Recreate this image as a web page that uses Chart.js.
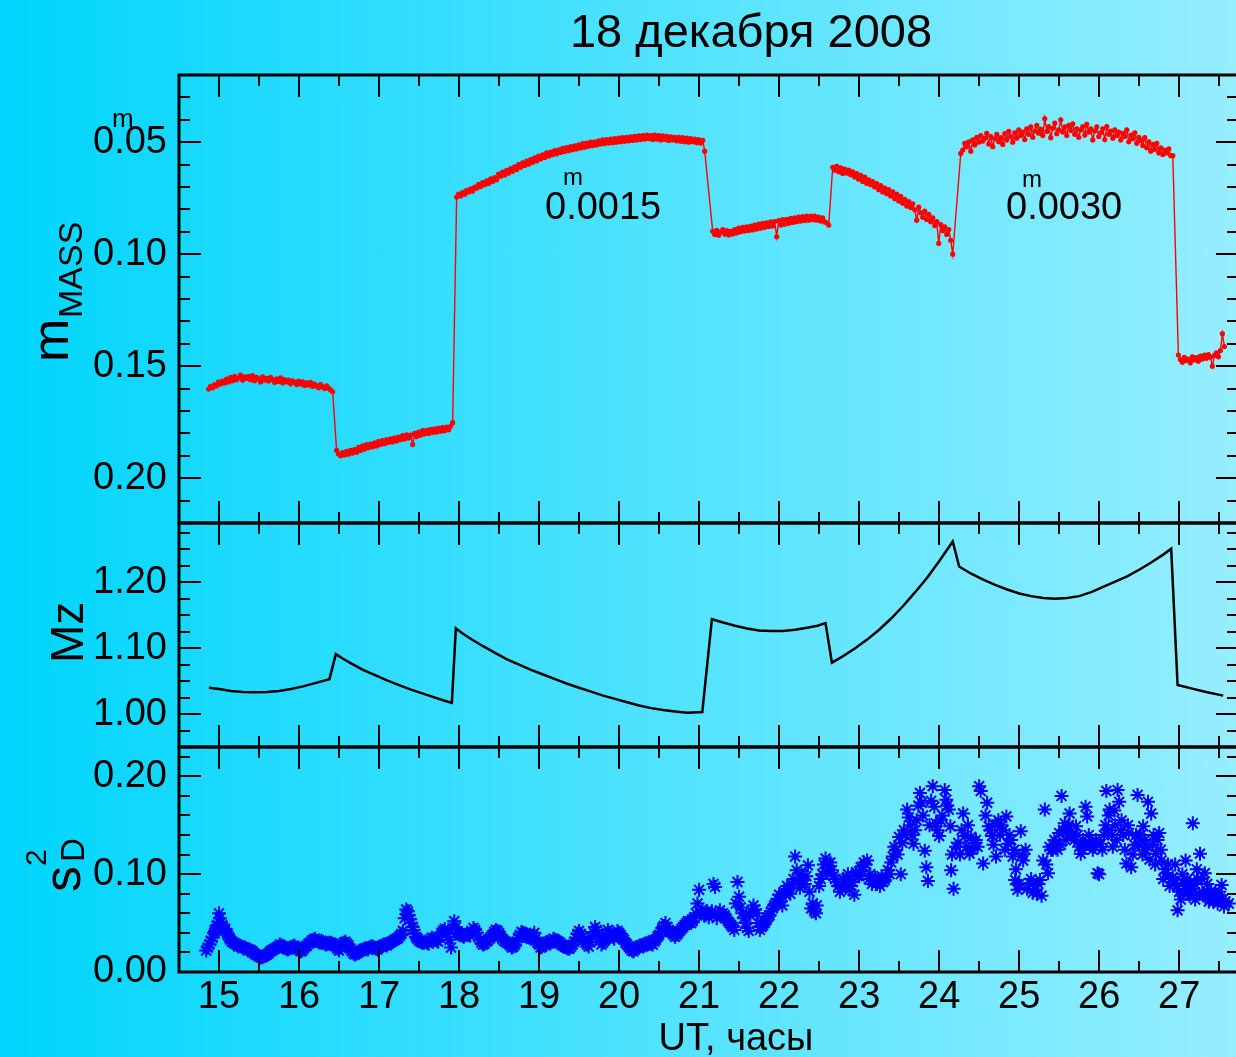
<!DOCTYPE html>
<html>
<head>
<meta charset="utf-8">
<script src="https://cdn.jsdelivr.net/npm/chart.js@4.4.1/dist/chart.umd.min.js"></script>
<style>
  html, body { margin: 0; padding: 0; overflow: hidden; }
  #wrap {
    position: relative; width: 1236px; height: 1057px; overflow: hidden;
    background: linear-gradient(to right, #00d5fd, #96eeff);
    font-family: 'Liberation Sans', Arial, sans-serif; color: #000;
  }
  #wrap canvas { position: absolute; left: 0; top: 0; }
  .lbl { position: absolute; line-height: 1; white-space: nowrap; }
  .rot { position: absolute; line-height: 1; white-space: nowrap; transform-origin: 0 0; transform: rotate(-90deg); }
</style>
</head>
<body>
<div id="wrap">
  <canvas id="c1" width="1240" height="1057"></canvas>
  <canvas id="c2" width="1240" height="1057"></canvas>
  <canvas id="c3" width="1240" height="1057"></canvas>

  <div class="lbl" style="left:751px; top:7px; font-size:47px; transform:translateX(-50%);">18 декабря 2008</div>
  <div class="lbl" style="left:736px; top:1018px; font-size:38px; transform:translateX(-50%);">UT, часы</div>

  <div class="lbl" style="left:112px; top:105px; font-size:26px;">m</div>
  <div class="lbl" style="left:545px; top:187px; font-size:38px;">0.0015</div>
  <div class="lbl" style="left:563px; top:165px; font-size:24px;">m</div>
  <div class="lbl" style="left:1006px; top:187px; font-size:38px;">0.0030</div>
  <div class="lbl" style="left:1022px; top:167px; font-size:24px;">m</div>

  <div class="rot" style="left:24px; top:362px; font-size:52px;">m</div>
  <div class="rot" style="left:53px; top:318px; font-size:34px;">MASS</div>
  <div class="rot" style="left:44px; top:663px; font-size:46px;">Mz</div>
  <div class="rot" style="left:36px; top:892px; font-size:52px;">s</div>
  <div class="rot" style="left:56px; top:862px; font-size:33px;">D</div>
  <div class="rot" style="left:21px; top:866px; font-size:30px;">2</div>
</div>

<script>
// --- x axis (UT, hours) ---
const xMajor = [15, 16, 17, 18, 19, 20, 21, 22, 23, 24, 25, 26, 27];
const xMinor = [14.5, 15.5, 16.5, 17.5, 18.5, 19.5, 20.5, 21.5, 22.5, 23.5, 24.5, 25.5, 26.5, 27.5];

// --- top panel: m_MASS ---
const mMajor = [0.05, 0.10, 0.15, 0.20];
const mMinor = [0.02, 0.03, 0.04, 0.06, 0.07, 0.08, 0.09, 0.11, 0.12, 0.13, 0.14, 0.16, 0.17, 0.18, 0.19, 0.21, 0.22];

const redTime = [
  // 14.9 - 16.4
  14.87, 14.895, 14.92, 14.945, 14.97, 14.995, 15.02, 15.045, 15.07, 15.095,
  15.12, 15.145, 15.17, 15.195, 15.22, 15.245, 15.27, 15.295, 15.32, 15.345,
  15.37, 15.395, 15.42, 15.445, 15.47, 15.495, 15.52, 15.545, 15.57, 15.595,
  15.62, 15.645, 15.67, 15.695, 15.72, 15.745, 15.77, 15.795, 15.82, 15.845,
  15.87, 15.895, 15.92, 15.945, 15.97, 15.995, 16.02, 16.045, 16.07, 16.095,
  16.12, 16.145, 16.17, 16.195, 16.22, 16.245, 16.27, 16.295, 16.32, 16.345,
  16.37, 16.395, 16.42,
  // 16.5 - 17.9
  16.47, 16.495, 16.52, 16.545, 16.57, 16.595, 16.62, 16.645, 16.67, 16.695,
  16.72, 16.745, 16.77, 16.795, 16.82, 16.845, 16.87, 16.895, 16.92, 16.945,
  16.97, 16.995, 17.02, 17.045, 17.07, 17.095, 17.12, 17.145, 17.17, 17.195,
  17.22, 17.245, 17.27, 17.295, 17.32, 17.345, 17.37, 17.395, 17.42, 17.445,
  17.47, 17.495, 17.52, 17.545, 17.57, 17.595, 17.62, 17.645, 17.67, 17.695,
  17.72, 17.745, 17.77, 17.795, 17.82, 17.845, 17.87, 17.895, 17.92,
  // 18.0 - 21.1
  17.97, 17.995, 18.02, 18.045, 18.07, 18.095, 18.12, 18.145, 18.17, 18.195,
  18.22, 18.245, 18.27, 18.295, 18.32, 18.345, 18.37, 18.395, 18.42, 18.445,
  18.47, 18.495, 18.52, 18.545, 18.57, 18.595, 18.62, 18.645, 18.67, 18.695,
  18.72, 18.745, 18.77, 18.795, 18.82, 18.845, 18.87, 18.895, 18.92, 18.945,
  18.97, 18.995, 19.02, 19.045, 19.07, 19.095, 19.12, 19.145, 19.17, 19.195,
  19.22, 19.245, 19.27, 19.295, 19.32, 19.345, 19.37, 19.395, 19.42, 19.445,
  19.47, 19.495, 19.52, 19.545, 19.57, 19.595, 19.62, 19.645, 19.67, 19.695,
  19.72, 19.745, 19.77, 19.795, 19.82, 19.845, 19.87, 19.895, 19.92, 19.945,
  19.97, 19.995, 20.02, 20.045, 20.07, 20.095, 20.12, 20.145, 20.17, 20.195,
  20.22, 20.245, 20.27, 20.295, 20.32, 20.345, 20.37, 20.395, 20.42, 20.445,
  20.47, 20.495, 20.52, 20.545, 20.57, 20.595, 20.62, 20.645, 20.67, 20.695,
  20.72, 20.745, 20.77, 20.795, 20.82, 20.845, 20.87, 20.895, 20.92, 20.945,
  20.97, 20.995, 21.02, 21.045, 21.07,
  // 21.2 - 22.6
  21.17, 21.195, 21.22, 21.245, 21.27, 21.295, 21.32, 21.345, 21.37, 21.395,
  21.42, 21.445, 21.47, 21.495, 21.52, 21.545, 21.57, 21.595, 21.62, 21.645,
  21.67, 21.695, 21.72, 21.745, 21.77, 21.795, 21.82, 21.845, 21.87, 21.895,
  21.92, 21.945, 21.97, 21.995, 22.02, 22.045, 22.07, 22.095, 22.12, 22.145,
  22.17, 22.195, 22.22, 22.245, 22.27, 22.295, 22.32, 22.345, 22.37, 22.395,
  22.42, 22.445, 22.47, 22.495, 22.52, 22.545, 22.57, 22.595, 22.62,
  // 22.7 - 24.2
  22.67, 22.695, 22.72, 22.745, 22.77, 22.795, 22.82, 22.845, 22.87, 22.895,
  22.92, 22.945, 22.97, 22.995, 23.02, 23.045, 23.07, 23.095, 23.12, 23.145,
  23.17, 23.195, 23.22, 23.245, 23.27, 23.295, 23.32, 23.345, 23.37, 23.395,
  23.42, 23.445, 23.47, 23.495, 23.52, 23.545, 23.57, 23.595, 23.62, 23.645,
  23.67, 23.695, 23.72, 23.745, 23.77, 23.795, 23.82, 23.845, 23.87, 23.895,
  23.92, 23.945, 23.97, 23.995, 24.02, 24.045, 24.07, 24.095, 24.12, 24.145,
  24.17,
  // 24.3 - 26.9
  24.27, 24.295, 24.32, 24.345, 24.37, 24.395, 24.42, 24.445, 24.47, 24.495,
  24.52, 24.545, 24.57, 24.595, 24.62, 24.645, 24.67, 24.695, 24.72, 24.745,
  24.77, 24.795, 24.82, 24.845, 24.87, 24.895, 24.92, 24.945, 24.97, 24.995,
  25.02, 25.045, 25.07, 25.095, 25.12, 25.145, 25.17, 25.195, 25.22, 25.245,
  25.27, 25.295, 25.32, 25.345, 25.37, 25.395, 25.42, 25.445, 25.47, 25.495,
  25.52, 25.545, 25.57, 25.595, 25.62, 25.645, 25.67, 25.695, 25.72, 25.745,
  25.77, 25.795, 25.82, 25.845, 25.87, 25.895, 25.92, 25.945, 25.97, 25.995,
  26.02, 26.045, 26.07, 26.095, 26.12, 26.145, 26.17, 26.195, 26.22, 26.245,
  26.27, 26.295, 26.32, 26.345, 26.37, 26.395, 26.42, 26.445, 26.47, 26.495,
  26.52, 26.545, 26.57, 26.595, 26.62, 26.645, 26.67, 26.695, 26.72, 26.745,
  26.77, 26.795, 26.82, 26.845, 26.87, 26.895, 26.92,
  // 27.0 - 27.6
  26.99, 27.015, 27.04, 27.065, 27.09, 27.115, 27.14, 27.165, 27.19, 27.215,
  27.24, 27.265, 27.29, 27.315, 27.34, 27.365, 27.39, 27.415, 27.44, 27.465,
  27.49, 27.515, 27.54, 27.565
];
const redMag = [
  0.1602, 0.1590, 0.1596, 0.1582, 0.1588, 0.1570, 0.1580, 0.1566, 0.1575, 0.1558,
  0.1570, 0.1550, 0.1565, 0.1545, 0.1560, 0.1552, 0.1540, 0.1562, 0.1548, 0.1555,
  0.1545, 0.1560, 0.1542, 0.1565, 0.1550, 0.1556, 0.1570, 0.1548, 0.1562, 0.1554,
  0.1566, 0.1550, 0.1560, 0.1572, 0.1556, 0.1568, 0.1552, 0.1574, 0.1560, 0.1570,
  0.1562, 0.1578, 0.1565, 0.1572, 0.1582, 0.1566, 0.1580, 0.1570, 0.1586, 0.1574,
  0.1584, 0.1572, 0.1590, 0.1580, 0.1588, 0.1596, 0.1582, 0.1592, 0.1600, 0.1588,
  0.1598, 0.1606, 0.1614,

  0.1876, 0.1892, 0.1900, 0.1886, 0.1896, 0.1880, 0.1893, 0.1876, 0.1888, 0.1872,
  0.1884, 0.1862, 0.1876, 0.1856, 0.1870, 0.1850, 0.1864, 0.1848, 0.1860, 0.1842,
  0.1856, 0.1836, 0.1850, 0.1832, 0.1846, 0.1828, 0.1840, 0.1824, 0.1838, 0.1820,
  0.1834, 0.1816, 0.1828, 0.1810, 0.1825, 0.1806, 0.1820, 0.1808, 0.1850, 0.1800,
  0.1814, 0.1794, 0.1808, 0.1788, 0.1802, 0.1786, 0.1800, 0.1782, 0.1796, 0.1780,
  0.1794, 0.1776, 0.1790, 0.1774, 0.1788, 0.1772, 0.1784, 0.1768, 0.1752,

  0.0745, 0.0732, 0.0740, 0.0724, 0.0732, 0.0715, 0.0722, 0.0708, 0.0718, 0.0700,
  0.0706, 0.0688, 0.0698, 0.0680, 0.0690, 0.0672, 0.0684, 0.0664, 0.0676, 0.0658,
  0.0668, 0.0642, 0.0652, 0.0634, 0.0646, 0.0626, 0.0638, 0.0618, 0.0630, 0.0610,
  0.0622, 0.0600, 0.0612, 0.0592, 0.0604, 0.0584, 0.0598, 0.0578, 0.0590, 0.0570,
  0.0584, 0.0562, 0.0575, 0.0556, 0.0568, 0.0548, 0.0562, 0.0544, 0.0556, 0.0538,
  0.0552, 0.0534, 0.0546, 0.0528, 0.0542, 0.0524, 0.0538, 0.0520, 0.0534, 0.0516,
  0.0530, 0.0512, 0.0526, 0.0506, 0.0522, 0.0504, 0.0518, 0.0500, 0.0515, 0.0498,
  0.0512, 0.0494, 0.0508, 0.0490, 0.0506, 0.0488, 0.0504, 0.0486, 0.0502, 0.0484,
  0.0500, 0.0482, 0.0498, 0.0480, 0.0496, 0.0478, 0.0494, 0.0476, 0.0492, 0.0474,
  0.0490, 0.0472, 0.0488, 0.0470, 0.0486, 0.0468, 0.0484, 0.0470, 0.0488, 0.0468,
  0.0486, 0.0470, 0.0490, 0.0472, 0.0488, 0.0474, 0.0492, 0.0476, 0.0490, 0.0478,
  0.0494, 0.0478, 0.0496, 0.0480, 0.0498, 0.0482, 0.0500, 0.0484, 0.0498, 0.0486,
  0.0502, 0.0488, 0.0504, 0.0492, 0.0540,

  0.0898, 0.0912, 0.0894, 0.0915, 0.0900, 0.0890, 0.0910, 0.0895, 0.0914, 0.0898,
  0.0910, 0.0890, 0.0905, 0.0884, 0.0900, 0.0880, 0.0896, 0.0878, 0.0894, 0.0874,
  0.0892, 0.0870, 0.0888, 0.0866, 0.0884, 0.0862, 0.0880, 0.0860, 0.0876, 0.0856,
  0.0874, 0.0854, 0.0922, 0.0850, 0.0870, 0.0846, 0.0866, 0.0844, 0.0862, 0.0840,
  0.0858, 0.0838, 0.0855, 0.0834, 0.0852, 0.0832, 0.0850, 0.0830, 0.0848, 0.0830,
  0.0846, 0.0830, 0.0848, 0.0834, 0.0852, 0.0838, 0.0856, 0.0860, 0.0870,

  0.0612, 0.0625, 0.0608, 0.0632, 0.0615, 0.0640, 0.0620, 0.0638, 0.0625, 0.0645,
  0.0632, 0.0655, 0.0640, 0.0665, 0.0648, 0.0675, 0.0656, 0.0684, 0.0668, 0.0690,
  0.0676, 0.0700, 0.0685, 0.0712, 0.0694, 0.0722, 0.0705, 0.0730, 0.0712, 0.0740,
  0.0722, 0.0752, 0.0732, 0.0762, 0.0742, 0.0772, 0.0755, 0.0785, 0.0765, 0.0792,
  0.0775, 0.0802, 0.0848, 0.0790, 0.0815, 0.0835, 0.0808, 0.0845, 0.0822, 0.0855,
  0.0838, 0.0872, 0.0855, 0.0952, 0.0868, 0.0895, 0.0878, 0.0912, 0.0890, 0.0938,
  0.1000,

  0.0550, 0.0535, 0.0505, 0.0520, 0.0498, 0.0540, 0.0490, 0.0512, 0.0478, 0.0500,
  0.0470, 0.0495, 0.0482, 0.0460, 0.0508, 0.0475, 0.0520, 0.0485, 0.0465, 0.0498,
  0.0480, 0.0510, 0.0462, 0.0490, 0.0452, 0.0475, 0.0500, 0.0458, 0.0482, 0.0445,
  0.0470, 0.0455, 0.0488, 0.0440, 0.0465, 0.0432, 0.0478, 0.0450, 0.0425, 0.0460,
  0.0442, 0.0470, 0.0395, 0.0452, 0.0430, 0.0480, 0.0438, 0.0415, 0.0462, 0.0445,
  0.0400, 0.0455, 0.0432, 0.0470, 0.0425, 0.0448, 0.0418, 0.0465, 0.0440, 0.0478,
  0.0445, 0.0430, 0.0468, 0.0420, 0.0455, 0.0440, 0.0490, 0.0450, 0.0432, 0.0475,
  0.0458, 0.0440, 0.0488, 0.0430, 0.0465, 0.0450, 0.0482, 0.0445, 0.0470, 0.0455,
  0.0490, 0.0460, 0.0475, 0.0445, 0.0498, 0.0468, 0.0485, 0.0458, 0.0505, 0.0478,
  0.0492, 0.0515, 0.0480, 0.0525, 0.0498, 0.0540, 0.0510, 0.0532, 0.0505, 0.0548,
  0.0525, 0.0555, 0.0535, 0.0548, 0.0530, 0.0560, 0.0560,

  0.1450, 0.1470, 0.1482, 0.1460, 0.1475, 0.1468, 0.1485, 0.1458, 0.1472, 0.1462,
  0.1478, 0.1455, 0.1468, 0.1450, 0.1465, 0.1448, 0.1460, 0.1500, 0.1452, 0.1440,
  0.1458, 0.1430, 0.1355, 0.1412
];

// --- middle panel: Mz (air mass) ---
const mzMajor = [1.00, 1.10, 1.20];
const mzMinor = [0.95, 0.975, 1.025, 1.05, 1.075, 1.125, 1.15, 1.175, 1.225, 1.25, 1.275];

const mzTime = [
  14.875, 15.0, 15.15, 15.3, 15.45, 15.6, 15.75, 15.9, 16.05, 16.2, 16.38,
  16.46, 16.55, 16.65, 16.8, 16.95, 17.1, 17.25, 17.4, 17.55, 17.7, 17.8, 17.91,
  17.96, 18.05, 18.15, 18.3, 18.45, 18.6, 18.75, 18.9, 19.05, 19.2, 19.35, 19.5,
  19.65, 19.8, 19.95, 20.1, 20.25, 20.4, 20.55, 20.7, 20.85, 21.04,
  21.16, 21.3, 21.45, 21.6, 21.75, 21.9, 22.05, 22.2, 22.35, 22.48, 22.58,
  22.66, 22.8, 22.95, 23.1, 23.25, 23.4, 23.55, 23.7, 23.85, 24.0, 24.17,
  24.25, 24.4, 24.55, 24.7, 24.85, 25.0, 25.15, 25.3, 25.45, 25.6, 25.75,
  25.9, 26.05, 26.2, 26.35, 26.5, 26.65, 26.8, 26.9,
  26.98, 27.15, 27.35, 27.55
];
const mzValue = [
  1.040, 1.038, 1.035, 1.0335, 1.033, 1.0335, 1.035, 1.038, 1.042, 1.047, 1.053,
  1.091, 1.084, 1.077, 1.067, 1.059, 1.051, 1.044, 1.037, 1.031, 1.025, 1.021, 1.017,
  1.130, 1.122, 1.114, 1.103, 1.093, 1.083, 1.075, 1.067, 1.060, 1.053, 1.046, 1.040,
  1.034, 1.028, 1.023, 1.018, 1.013, 1.009, 1.006, 1.004, 1.002, 1.003,
  1.144, 1.139, 1.134, 1.130, 1.127, 1.126, 1.126, 1.128, 1.131, 1.134, 1.138,
  1.078, 1.088, 1.100, 1.113, 1.128, 1.145, 1.164, 1.185, 1.207, 1.232, 1.262,
  1.224, 1.213, 1.204, 1.196, 1.189, 1.183, 1.179, 1.176, 1.175, 1.176, 1.179,
  1.185, 1.193, 1.201, 1.209, 1.219, 1.230, 1.242, 1.251,
  1.044, 1.039, 1.033, 1.028
];

// --- bottom panel: s_D^2 ---
const sdMajor = [0.00, 0.10, 0.20];
const sdMinor = [0.02, 0.04, 0.06, 0.08, 0.12, 0.14, 0.16, 0.18, 0.22];

const sdTime = [
  14.84, 14.88, 14.92, 14.95, 14.98, 15.00, 15.02, 15.05, 15.08, 15.11,
  15.14, 15.18, 15.22, 15.26, 15.30, 15.34, 15.38, 15.42, 15.46, 15.50,
  15.54, 15.58, 15.62, 15.66, 15.70, 15.74, 15.78, 15.82, 15.86, 15.90,
  15.94, 15.98, 16.02, 16.06, 16.10, 16.14, 16.18, 16.22, 16.26, 16.30,
  16.34, 16.38, 16.42, 16.46, 16.50, 16.54, 16.58, 16.62, 16.66, 16.70,
  16.74, 16.78, 16.82, 16.86, 16.90, 16.94, 16.98, 17.02, 17.06, 17.10,
  17.14, 17.18, 17.22, 17.26, 17.30, 17.34, 17.37, 17.40, 17.43, 17.46,
  17.50, 17.54, 17.58, 17.62, 17.66, 17.70, 17.74, 17.78, 17.82, 17.86,
  17.90, 17.94, 17.98, 18.02, 18.06, 18.10, 18.14, 18.18, 18.22, 18.26,
  18.30, 18.34, 18.38, 18.42, 18.46, 18.50, 18.54, 18.58, 18.62, 18.66,
  18.70, 18.74, 18.78, 18.82, 18.86, 18.90, 18.94, 18.98, 19.02, 19.06,
  19.10, 19.14, 19.18, 19.22, 19.26, 19.30, 19.34, 19.38, 19.42, 19.46,
  19.50, 19.54, 19.58, 19.62, 19.66, 19.70, 19.74, 19.78, 19.82, 19.86,
  19.90, 19.94, 19.98, 20.02, 20.06, 20.10, 20.14, 20.18, 20.22, 20.26,
  20.30, 20.34, 20.38, 20.42, 20.46, 20.50, 20.54, 20.58, 20.62, 20.66,
  20.70, 20.74, 20.78, 20.82, 20.86, 20.90, 20.94, 20.98, 21.00, 21.02,
  21.06, 21.10, 21.14, 21.18, 21.20, 21.24, 21.28, 21.32, 21.36, 21.40,
  21.44, 21.48, 21.50, 21.52, 21.56, 21.60, 21.64, 21.68, 21.72, 21.76,
  21.80, 21.84, 21.88, 21.92, 21.96, 22.00, 22.04, 22.08, 22.12, 22.16,
  22.20, 22.22, 22.26, 22.30, 22.34, 22.36, 22.40, 22.44, 22.47, 22.50,
  22.54, 22.58, 22.62, 22.66, 22.70, 22.74, 22.78, 22.82, 22.86, 22.90,
  22.94, 22.98, 23.02, 23.06, 23.10, 23.14, 23.18, 23.22, 23.26, 23.30,
  23.34, 23.38, 23.42, 23.44, 23.48, 23.50, 23.52, 23.56, 23.60, 23.64,
  23.68, 23.72, 23.76, 23.78, 23.82, 23.84, 23.86, 23.88, 23.92, 23.94,
  23.96, 24.00, 24.02, 24.07, 24.09, 24.12, 24.14, 24.15, 24.18, 24.21,
  24.26, 24.30, 24.32, 24.38, 24.42, 24.46, 24.50, 24.52, 24.55, 24.60,
  24.62, 24.66, 24.71, 24.74, 24.80, 24.84, 24.86, 24.90, 24.92, 24.95,
  24.98, 25.02, 25.05, 25.08, 25.13, 25.17, 25.20, 25.26, 25.28, 25.30,
  25.32, 25.36, 25.38, 25.42, 25.46, 25.50, 25.53, 25.57, 25.60, 25.63,
  25.67, 25.71, 25.75, 25.77, 25.80, 25.83, 25.85, 25.88, 25.92, 25.96,
  25.98, 26.02, 26.06, 26.09, 26.11, 26.13, 26.17, 26.20, 26.23, 26.25,
  26.28, 26.30, 26.34, 26.37, 26.40, 26.44, 26.48, 26.52, 26.55, 26.58,
  26.61, 26.65, 26.68, 26.71, 26.75, 26.78, 26.82, 26.84, 26.88, 26.92,
  26.95, 26.98, 27.02, 27.05, 27.08, 27.11, 27.14, 27.17, 27.20, 27.23,
  27.26, 27.29, 27.32, 27.35, 27.38, 27.42, 27.45, 27.48, 27.51, 27.53,
  27.56,
  // second pass of readings
  14.86, 14.90, 14.94, 14.97, 15.01, 15.04, 15.07, 15.10, 15.13, 15.16,
  15.20, 15.24, 15.28, 15.32, 15.36, 15.40, 15.44, 15.48, 15.52, 15.56,
  15.60, 15.64, 15.68, 15.72, 15.76, 15.80, 15.84, 15.88, 15.92, 15.96,
  16.00, 16.04, 16.08, 16.12, 16.16, 16.20, 16.24, 16.28, 16.32, 16.36,
  16.40, 16.44, 16.48, 16.52, 16.56, 16.60, 16.64, 16.68, 16.72, 16.76,
  16.80, 16.84, 16.88, 16.92, 16.96, 17.00, 17.04, 17.08, 17.12, 17.16,
  17.20, 17.24, 17.28, 17.32, 17.36, 17.39, 17.42, 17.45, 17.48, 17.52,
  17.56, 17.60, 17.64, 17.68, 17.72, 17.76, 17.80, 17.84, 17.88, 17.92,
  17.96, 18.00, 18.04, 18.08, 18.12, 18.16, 18.20, 18.24, 18.28, 18.32,
  18.36, 18.40, 18.44, 18.48, 18.52, 18.56, 18.60, 18.64, 18.68, 18.72,
  18.76, 18.80, 18.84, 18.88, 18.92, 18.96, 19.00, 19.04, 19.08, 19.12,
  19.16, 19.20, 19.24, 19.28, 19.32, 19.36, 19.40, 19.44, 19.48, 19.52,
  19.56, 19.60, 19.64, 19.68, 19.72, 19.76, 19.80, 19.84, 19.88, 19.92,
  19.96, 20.00, 20.04, 20.08, 20.12, 20.16, 20.20, 20.24, 20.28, 20.32,
  20.36, 20.40, 20.44, 20.48, 20.52, 20.56, 20.60, 20.64, 20.68, 20.72,
  20.76, 20.80, 20.84, 20.88, 20.92, 20.96,
  21.04, 21.08, 21.12, 21.16, 21.22, 21.26, 21.30, 21.34, 21.38, 21.42,
  21.46, 21.54, 21.58, 21.62, 21.66, 21.70, 21.74, 21.78, 21.82, 21.86,
  21.90, 21.94, 21.98, 22.02, 22.06, 22.10, 22.14, 22.18, 22.24, 22.28,
  22.32, 22.38, 22.42, 22.46, 22.52, 22.56, 22.60, 22.64, 22.68, 22.72,
  22.76, 22.80, 22.84, 22.88, 22.92, 22.96, 23.00, 23.04, 23.08, 23.12,
  23.16, 23.20, 23.24, 23.28, 23.32, 23.36, 23.40, 23.46, 23.54, 23.58,
  23.62, 23.66, 23.70, 23.74, 23.80, 23.90, 23.98, 24.04, 24.10, 24.16,
  24.24, 24.28, 24.34, 24.36, 24.40, 24.44, 24.48, 24.58, 24.64, 24.68,
  24.70, 24.76, 24.78, 24.82, 24.88, 24.94, 24.96, 25.00, 25.04, 25.10,
  25.15, 25.22, 25.24, 25.34, 25.40, 25.44, 25.48, 25.52, 25.55, 25.58,
  25.62, 25.65, 25.69, 25.73, 25.79, 25.82, 25.87, 25.90, 25.94, 26.00,
  26.04, 26.08, 26.12, 26.16, 26.19, 26.22, 26.27, 26.32, 26.36, 26.42,
  26.46, 26.50, 26.54, 26.57, 26.60, 26.63, 26.67, 26.70, 26.73, 26.77,
  26.80, 26.86, 26.90, 26.94, 26.97, 27.00, 27.04, 27.07, 27.10, 27.13,
  27.16, 27.19, 27.22, 27.25, 27.28, 27.31, 27.34, 27.37, 27.40, 27.43,
  27.46, 27.50, 27.54, 27.58, 27.62
];
const sdValue = [
  0.022, 0.028, 0.035, 0.042, 0.048, 0.060, 0.050, 0.046, 0.044, 0.038,
  0.033, 0.030, 0.028, 0.027, 0.025, 0.024, 0.023, 0.021, 0.018, 0.016,
  0.015, 0.017, 0.019, 0.022, 0.024, 0.026, 0.027, 0.025, 0.023, 0.025,
  0.027, 0.024, 0.021, 0.024, 0.027, 0.030, 0.033, 0.032, 0.030, 0.031,
  0.028, 0.030, 0.029, 0.026, 0.022, 0.028, 0.031, 0.027, 0.021, 0.018,
  0.020, 0.022, 0.024, 0.023, 0.026, 0.025, 0.023, 0.026, 0.028, 0.027,
  0.030, 0.032, 0.034, 0.037, 0.042, 0.064, 0.058, 0.050, 0.043, 0.036,
  0.032, 0.030, 0.031, 0.029, 0.035, 0.033, 0.031, 0.040, 0.044, 0.036,
  0.025, 0.052, 0.040, 0.038, 0.036, 0.040, 0.037, 0.045, 0.040, 0.033,
  0.028, 0.031, 0.034, 0.038, 0.043, 0.040, 0.034, 0.031, 0.029, 0.025,
  0.028, 0.035, 0.041, 0.039, 0.036, 0.034, 0.040, 0.030, 0.025, 0.028,
  0.031, 0.029, 0.034, 0.032, 0.030, 0.027, 0.025, 0.024, 0.028, 0.035,
  0.042, 0.036, 0.030, 0.026, 0.036, 0.046, 0.040, 0.028, 0.032, 0.043,
  0.038, 0.034, 0.042, 0.038, 0.033, 0.028, 0.024, 0.021, 0.025, 0.027,
  0.026, 0.029, 0.031, 0.028, 0.033, 0.038, 0.045, 0.050, 0.043, 0.040,
  0.036, 0.040, 0.044, 0.048, 0.052, 0.050, 0.055, 0.070, 0.084, 0.060,
  0.058, 0.062, 0.060, 0.090, 0.087, 0.060, 0.057, 0.058, 0.052, 0.048,
  0.043, 0.092, 0.077, 0.066, 0.055, 0.045, 0.058, 0.068, 0.060, 0.043,
  0.048, 0.053, 0.058, 0.065, 0.070, 0.079, 0.068, 0.079, 0.085, 0.090,
  0.118, 0.104, 0.086, 0.094, 0.098, 0.109, 0.065, 0.062, 0.068, 0.088,
  0.100, 0.116, 0.108, 0.104, 0.095, 0.088, 0.086, 0.092, 0.100, 0.088,
  0.079, 0.098, 0.107, 0.112, 0.114, 0.100, 0.093, 0.090, 0.088, 0.092,
  0.097, 0.100, 0.118, 0.128, 0.120, 0.138, 0.100, 0.145, 0.166, 0.150,
  0.131, 0.155, 0.183, 0.173, 0.124, 0.107, 0.093, 0.150, 0.190, 0.169,
  0.152, 0.139, 0.155, 0.186, 0.176, 0.166, 0.149, 0.104, 0.085, 0.128,
  0.120, 0.162, 0.139, 0.121, 0.125, 0.135, 0.190, 0.185, 0.111, 0.173,
  0.149, 0.139, 0.118, 0.155, 0.145, 0.159, 0.131, 0.135, 0.118, 0.094,
  0.084, 0.144, 0.114, 0.125, 0.091, 0.081, 0.088, 0.094, 0.078, 0.114,
  0.166, 0.101, 0.128, 0.125, 0.130, 0.142, 0.180, 0.152, 0.145, 0.162,
  0.139, 0.149, 0.128, 0.121, 0.135, 0.169, 0.159, 0.131, 0.125, 0.135,
  0.101, 0.131, 0.140, 0.185, 0.145, 0.166, 0.128, 0.150, 0.186, 0.174,
  0.155, 0.140, 0.111, 0.142, 0.107, 0.130, 0.181, 0.140, 0.149, 0.125,
  0.174, 0.162, 0.140, 0.121, 0.142, 0.114, 0.105, 0.101, 0.088, 0.097,
  0.110, 0.063, 0.074, 0.091, 0.114, 0.080, 0.091, 0.152, 0.074, 0.095,
  0.121, 0.081, 0.101, 0.090, 0.074, 0.077, 0.080, 0.070, 0.075, 0.089,
  0.067,
  0.025, 0.032, 0.040, 0.047, 0.055, 0.048, 0.043, 0.040, 0.035, 0.031,
  0.029, 0.026, 0.026, 0.025, 0.022, 0.022, 0.019, 0.017, 0.015, 0.016,
  0.018, 0.021, 0.023, 0.025, 0.028, 0.026, 0.024, 0.024, 0.026, 0.025,
  0.023, 0.022, 0.026, 0.029, 0.032, 0.034, 0.031, 0.032, 0.029, 0.029,
  0.030, 0.027, 0.024, 0.025, 0.030, 0.029, 0.024, 0.019, 0.019, 0.021,
  0.023, 0.024, 0.025, 0.026, 0.024, 0.025, 0.027, 0.028, 0.029, 0.031,
  0.033, 0.035, 0.039, 0.055, 0.062, 0.054, 0.046, 0.039, 0.034, 0.031,
  0.030, 0.030, 0.033, 0.034, 0.032, 0.036, 0.042, 0.040, 0.033, 0.045,
  0.046, 0.039, 0.037, 0.038, 0.039, 0.041, 0.043, 0.036, 0.030, 0.029,
  0.032, 0.036, 0.041, 0.042, 0.037, 0.032, 0.030, 0.027, 0.026, 0.031,
  0.038, 0.040, 0.038, 0.035, 0.037, 0.035, 0.028, 0.026, 0.030, 0.030,
  0.031, 0.033, 0.031, 0.028, 0.026, 0.024, 0.026, 0.031, 0.039, 0.039,
  0.033, 0.028, 0.031, 0.041, 0.043, 0.034, 0.030, 0.038, 0.040, 0.036,
  0.038, 0.040, 0.035, 0.030, 0.026, 0.022, 0.023, 0.026, 0.027, 0.027,
  0.030, 0.029, 0.031, 0.036, 0.041, 0.047, 0.046, 0.041, 0.038, 0.038,
  0.042, 0.046, 0.050, 0.051, 0.052, 0.060,
  0.064, 0.058, 0.056, 0.062, 0.055, 0.063, 0.060, 0.055, 0.050, 0.046,
  0.070, 0.060, 0.050, 0.042, 0.062, 0.064, 0.050, 0.046, 0.050, 0.056,
  0.062, 0.068, 0.075, 0.072, 0.082, 0.088, 0.080, 0.095, 0.092, 0.100,
  0.090, 0.082, 0.070, 0.060, 0.095, 0.110, 0.102, 0.112, 0.098, 0.092,
  0.082, 0.095, 0.090, 0.084, 0.092, 0.102, 0.098, 0.104, 0.110, 0.095,
  0.090, 0.096, 0.092, 0.098, 0.094, 0.104, 0.112, 0.125, 0.132, 0.140,
  0.158, 0.140, 0.145, 0.170, 0.160, 0.175, 0.145, 0.160, 0.170, 0.120,
  0.132, 0.145, 0.128, 0.150, 0.138, 0.132, 0.128, 0.160, 0.145, 0.130,
  0.150, 0.140, 0.150, 0.125, 0.140, 0.125, 0.105, 0.090, 0.120, 0.085,
  0.095, 0.080, 0.090, 0.110, 0.125, 0.135, 0.125, 0.130, 0.145, 0.135,
  0.150, 0.140, 0.135, 0.140, 0.125, 0.130, 0.140, 0.130, 0.128, 0.100,
  0.125, 0.150, 0.160, 0.140, 0.165, 0.135, 0.145, 0.125, 0.150, 0.120,
  0.140, 0.130, 0.120, 0.135, 0.128, 0.115, 0.130, 0.110, 0.135, 0.125,
  0.095, 0.110, 0.095, 0.090, 0.088, 0.082, 0.100, 0.085, 0.095, 0.078,
  0.085, 0.090, 0.105, 0.080, 0.095, 0.080, 0.078, 0.072, 0.083, 0.072,
  0.078, 0.082, 0.074, 0.072, 0.070
];

const FONT = "'Liberation Sans', Arial, sans-serif";
Chart.defaults.font.family = FONT;
Chart.defaults.color = '#000';
Chart.defaults.animation = false;

const X_MIN = 14.5, X_MAX = 27.735;

// draws the black frame and inward ticks on all four sides (IDL style)
const frameTicks = {
  id: 'frameTicks',
  afterDatasetsDraw(chart, args, opts) {
    const {ctx, chartArea: a, scales} = chart;
    const xs = scales.x, ys = scales.y;
    const big = 22, small = 11;
    ctx.save();
    ctx.strokeStyle = '#000';
    ctx.lineWidth = 2;
    ctx.beginPath();
    const xt = (v, len) => {
      const p = Math.round(xs.getPixelForValue(v));
      ctx.moveTo(p, a.top); ctx.lineTo(p, a.top + len);
      ctx.moveTo(p, a.bottom); ctx.lineTo(p, a.bottom - len);
    };
    const yt = (v, len) => {
      const p = Math.round(ys.getPixelForValue(v));
      ctx.moveTo(a.left, p); ctx.lineTo(a.left + len, p);
      ctx.moveTo(a.right, p); ctx.lineTo(a.right - len, p);
    };
    xMajor.forEach(v => xt(v, big));
    xMinor.forEach(v => xt(v, small));
    opts.major.forEach(v => yt(v, big));
    opts.minor.forEach(v => yt(v, small));
    ctx.stroke();
    ctx.lineWidth = 3;
    ctx.strokeRect(a.left, a.top, a.right - a.left, a.bottom - a.top);
    ctx.restore();
  }
};

function makePanel(id, top, bottom, yCfg, datasets, showX) {
  const xCfg = {
    type: 'linear', min: X_MIN, max: X_MAX,
    display: showX,
    grid: { display: false, drawTicks: false },
    border: { display: false },
    afterBuildTicks: s => { s.ticks = xMajor.map(v => ({ value: v })); },
    ticks: { font: { size: 38 }, padding: 3, autoSkip: false, maxRotation: 0, callback: v => String(v) }
  };
  if (showX) {
    xCfg.afterFit = s => { s.height = 1057 - bottom; s.paddingLeft = 0; s.paddingRight = 0; };
  }
  return new Chart(document.getElementById(id), {
    type: 'line',
    data: { datasets },
    options: {
      responsive: false,
      layout: {
        autoPadding: false,
        padding: { top: top, bottom: showX ? 0 : 1057 - bottom, left: 0, right: 2 }
      },
      plugins: {
        legend: { display: false },
        tooltip: { enabled: false },
        frameTicks: { major: yCfg.major, minor: yCfg.minor }
      },
      scales: {
        x: xCfg,
        y: {
          type: 'linear', min: yCfg.min, max: yCfg.max, reverse: !!yCfg.reverse,
          grid: { display: false, drawTicks: false },
          border: { display: false },
          afterBuildTicks: s => { s.ticks = yCfg.major.map(v => ({ value: v })); },
          afterFit: s => { s.width = 179; },
          ticks: { font: { size: 38 }, padding: 12, autoSkip: false, callback: v => v.toFixed(2) }
        }
      }
    },
    plugins: [frameTicks]
  });
}

makePanel('c1', 75, 523,
  { min: 0.02, max: 0.22, reverse: true, major: mMajor, minor: mMinor },
  [{
    data: redTime.map((t, i) => ({ x: t, y: redMag[i] })),
    borderColor: '#ff0000', borderWidth: 1.4,
    pointRadius: 2.6, pointBackgroundColor: '#ff0000', pointBorderWidth: 0,
    tension: 0
  }], false);

makePanel('c2', 523, 747,
  { min: 0.95, max: 1.29, major: mzMajor, minor: mzMinor },
  [{
    data: mzTime.map((t, i) => ({ x: t, y: mzValue[i] })),
    borderColor: '#000', borderWidth: 2.5, pointRadius: 0, tension: 0
  }], false);

makePanel('c3', 747, 972,
  { min: 0, max: 0.23, major: sdMajor, minor: sdMinor },
  [{
    type: 'scatter',
    data: sdTime.map((t, i) => ({ x: t, y: sdValue[i] })),
    showLine: false,
    pointStyle: 'star', pointRadius: 7,
    borderColor: '#0000ff', pointBorderWidth: 2, backgroundColor: '#0000ff'
  }], true);
</script>
</body>
</html>
